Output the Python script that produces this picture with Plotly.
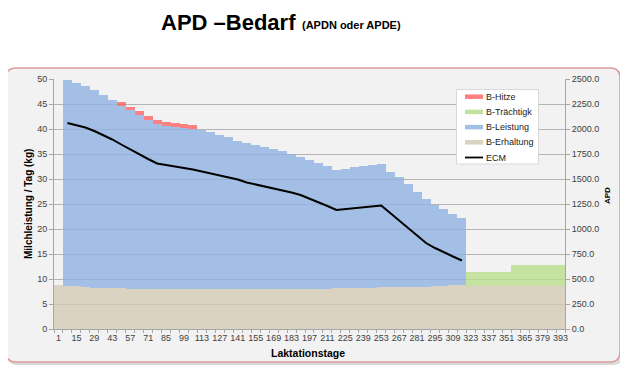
import plotly.graph_objects as go

# Laktationstage (weekly categories)
days = [1, 8, 15, 22, 29, 36, 43, 50, 57, 64, 71, 78, 85, 92, 99, 106, 113, 120,
        127, 134, 141, 148, 155, 162, 169, 176, 183, 190, 197, 204, 211, 218, 225,
        232, 239, 246, 253, 260, 267, 274, 281, 288, 295, 302, 309, 316, 323, 330,
        337, 344, 351, 358, 365, 372, 379, 386, 393]

tick_labels = [1, 15, 29, 43, 57, 71, 85, 99, 113, 127, 141, 155, 169, 183, 197,
               211, 225, 239, 253, 267, 281, 295, 309, 323, 337, 351, 365, 379, 393]

# APD values (right axis)
b_erhaltung = [440, 434, 428, 421, 415, 411, 408, 406, 404, 403, 402, 402, 402, 402, 401,
               400, 400, 400, 400, 400, 400, 400, 400, 400, 400, 400, 400,
               401, 402, 403, 404, 406, 407, 409, 411, 414, 417, 419, 421, 422, 423, 424,
               428, 433, 438, 444,
               435, 435, 435, 435, 435, 435, 435, 435, 435, 435, 435]

b_leistung = [None, 2056, 2037, 2009, 1975, 1929, 1882, 1829, 1786, 1737, 1693, 1653,
              1633, 1623, 1614, 1605, 1595, 1575, 1545, 1520, 1485, 1460, 1440, 1425,
              1405, 1385, 1355, 1324, 1293, 1262, 1231, 1189, 1198, 1216, 1224, 1226,
              1233, 1156, 1104, 1028, 952, 881, 817, 767, 717, 671,
              None, None, None, None, None, None, None, None, None, None, None]

b_hitze = [None, None, None, None, None, None, None, 35, 35, 45, 40, 35, 40, 40, 40, 35] + [None] * 41

b_traechtig = [None] * 46 + [140, 140, 140, 140, 140, 210, 210, 210, 210, 210, 210]

# ECM (kg, left axis)
ecm = [None, 41.2, 40.8, 40.3, 39.6, 38.8, 37.9, 36.9, 35.9, 34.9, 34.0, 33.1, 32.8,
       32.6, 32.3, 31.9, 31.5, 31.1, 30.7, 30.3, 29.9, 29.3, 28.9, 28.6, 28.2, 27.7,
       27.3, 26.8, 26.1, 25.3, 24.6, 23.8, 24.0, 24.1, 24.3, 24.5, 24.7, 23.2, 21.7,
       20.2, 18.7, 17.2, 16.2, 15.3, 14.5, 13.7] + [None] * 11

legend_names = ["B-Hitze", "B-Trächtigk", "B-Leistung", "B-Erhaltung", "ECM"]
legend_colors = ["#ff8080", "#c3e2a0", "#a2bfe6", "#d8d2bf", "#000000"]

C_BEIGE = "rgba(211,203,180,0.8)"
C_BLUE = "rgba(142,177,225,0.8)"
C_RED = "rgba(255,100,100,0.8)"
C_GREEN = "rgba(185,221,140,0.8)"

fig = go.Figure()
for nm, vals, col in [("B-Erhaltung", b_erhaltung, C_BEIGE), ("B-Leistung", b_leistung, C_BLUE),
                      ("B-Hitze", b_hitze, C_RED), ("B-Trächtigk", b_traechtig, C_GREEN)]:
    fig.add_trace(go.Bar(x=days, y=vals, name=nm, marker=dict(color=col, line=dict(width=0)),
                         showlegend=False, yaxis="y"))

fig.add_trace(go.Scatter(x=days, y=ecm, mode="lines", name="ECM", yaxis="y2",
                         line=dict(color="black", width=2), showlegend=False))

# page has an 8px body margin: figure is drawn 8px smaller and offset
OFF = 8
W, H = 628 - OFF, 370 - OFF
L, T = 54 - OFF, 79 - OFF
R = W - (565 - OFF)
B = H - (329 - OFF)
pw, ph = W - L - R, H - T - B

def px_x(p):  # page x pixel -> paper
    return (p - OFF - L) / pw

def px_y(p):  # page y pixel -> paper
    return (H - B - (p - OFF)) / ph

x0, x1 = px_x(6), px_x(620)
y1, y0 = px_y(68), px_y(362)
rx, ry = 10 / pw, 10 / ph

def rrect(dx, dy):
    a0, a1, b0, b1 = x0 + dx, x1 + dx, y0 + dy, y1 + dy
    return (f"M {a0+rx},{b1} L {a1-rx},{b1} Q {a1},{b1} {a1},{b1-ry} L {a1},{b0+ry} "
            f"Q {a1},{b0} {a1-rx},{b0} L {a0+rx},{b0} Q {a0},{b0} {a0},{b0+ry} "
            f"L {a0},{b1-ry} Q {a0},{b1} {a0+rx},{b1} Z")

FONT = "Liberation Sans, Arial, sans-serif"
TICKF = dict(family=FONT, size=9, color="#404040")

shapes = [
    dict(type="path", path=rrect(2 / pw, -2 / ph), xref="paper", yref="paper", layer="below",
         line=dict(color="#d8d8d8", width=2), fillcolor="#e8e8e8"),
    dict(type="path", path=rrect(0, 0), xref="paper", yref="paper", layer="below",
         line=dict(color="#dc9a9a", width=1.5), fillcolor="#f2f2f2"),
    # legend box
    dict(type="rect", xref="paper", yref="paper", x0=px_x(456.5), x1=px_x(538.5),
         y0=px_y(164), y1=px_y(89.5), fillcolor="white", line=dict(color="#d9d9d9", width=1)),
]
annotations = []
for k, (nm, col) in enumerate(zip(legend_names, legend_colors)):
    yc = 96.7 + k * 15.2
    shapes.append(dict(type="line", xref="paper", yref="paper", x0=px_x(465), x1=px_x(483),
                       y0=px_y(yc), y1=px_y(yc),
                       line=dict(color=col, width=1.8 if nm == "ECM" else 4.5)))
    annotations.append(dict(text=nm, x=px_x(484), y=px_y(yc), xref="paper", yref="paper",
                            xanchor="left", yanchor="middle", showarrow=False,
                            font=dict(family=FONT, size=9, color="#222")))

annotations += [
    dict(text="<b>APD –Bedarf</b>", x=px_x(297), y=px_y(8.5), xref="paper", yref="paper",
         xanchor="right", yanchor="top", showarrow=False, borderpad=0,
         font=dict(family=FONT, size=22, color="black")),
    dict(text="<b>(APDN oder APDE)</b>", x=px_x(301), y=px_y(32), xref="paper", yref="paper",
         xanchor="left", yanchor="bottom", showarrow=False, borderpad=0,
         font=dict(family=FONT, size=11, color="black")),
    dict(text="<b>Milchleistung / Tag (kg)</b>", x=px_x(28), y=px_y(204), xref="paper", yref="paper",
         xanchor="center", yanchor="middle", textangle=-90, showarrow=False,
         font=dict(family=FONT, size=10, color="black")),
    dict(text="<b>APD</b>", x=px_x(607), y=px_y(196), xref="paper", yref="paper",
         xanchor="center", yanchor="middle", textangle=-90, showarrow=False,
         font=dict(family=FONT, size=8, color="black")),
    dict(text="<b>Laktationstage</b>", x=px_x(308), y=px_y(353), xref="paper", yref="paper",
         xanchor="center", yanchor="middle", showarrow=False,
         font=dict(family=FONT, size=10.5, color="black")),
]

fig.update_layout(
    width=W, height=H,
    margin=dict(l=L, r=R, t=T, b=B, pad=0),
    paper_bgcolor="white",
    plot_bgcolor="rgba(0,0,0,0)",
    barmode="stack", bargap=0,
    showlegend=False,
    font=dict(family=FONT, size=9, color="#222"),
    shapes=shapes,
    annotations=annotations,
    xaxis=dict(range=[-2.5, 396.5], tickvals=tick_labels, ticktext=[str(t) for t in tick_labels],
               ticks="", showline=True, linecolor="#a6a6a6", linewidth=1,
               showgrid=False, zeroline=False, tickfont=TICKF,
               minor=dict(tick0=-2.5, dtick=7, ticks="outside", ticklen=3,
                          tickcolor="#a6a6a6", showgrid=False)),
    yaxis=dict(range=[0, 2500], dtick=250, tickformat=".1f", side="right",
               showgrid=True, gridcolor="#b4b4b4", gridwidth=1,
               showline=True, linecolor="#a6a6a6", ticks="outside", ticklen=4,
               tickcolor="#a6a6a6", zeroline=False, tickfont=TICKF),
    yaxis2=dict(range=[0, 50], dtick=5, overlaying="y", side="left",
                showgrid=False, showline=True, linecolor="#a6a6a6", ticks="outside",
                ticklen=4, tickcolor="#a6a6a6", zeroline=False, tickfont=TICKF),
)

fig.write_html("out.html")
